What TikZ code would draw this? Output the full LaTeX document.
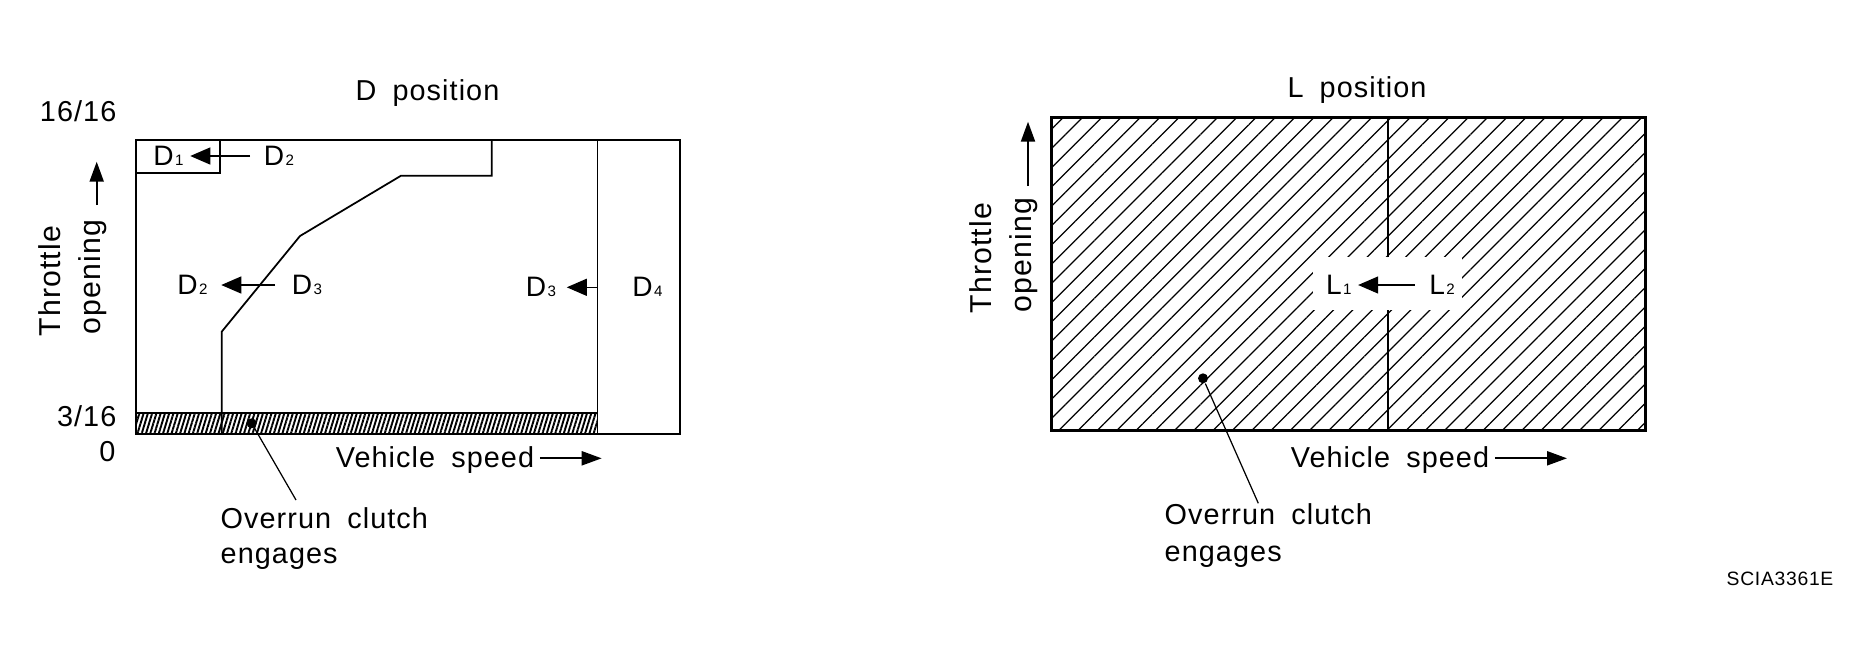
\documentclass[tikz,border=0pt]{standalone}
\usepackage{fontspec}
\setmainfont{Liberation Sans}[LetterSpace=3.7]
\usetikzlibrary{arrows.meta,patterns.meta}

\newcommand{\subnum}[1]{\hspace{0.4pt}{\fontsize{4.3}{5}\selectfont #1}}
\newcommand{\widegap}{\spaceskip 4.6pt\relax}

\begin{document}
\begin{tikzpicture}

\tikzstyle{txt}=[inner sep=0pt, font={\fontsize{8.2}{10}\selectfont\widegap}]
\tikzstyle{axis}=[inner sep=0pt, rotate=90, anchor=base, font=\fontsize{8.6}{10}\selectfont]
\tikzstyle{tag}=[inner sep=0pt, font=\fontsize{8}{9.6}\selectfont]
\tikzstyle{code}=[inner sep=0pt, font=\fontsize{5.5}{6.6}\selectfont]
\tikzstyle{frame}=[line width=0.57pt]
\tikzstyle{boldframe}=[line width=0.85pt]
\tikzstyle{divider}=[line width=0.3pt]
\tikzstyle{curve}=[line width=0.5pt, line join=miter]
\tikzstyle{shiftarrow}=[-{Triangle[length=2mm, width=1.7mm]}, line width=0.35pt]
\tikzstyle{axisarrow}=[-{Triangle[length=2mm, width=1.4mm]}, line width=0.6pt]
\tikzstyle{clutchdot}=[circle, fill, inner sep=0pt, minimum size=1mm]
\tikzstyle{leader}=[line width=0.35pt]

\useasboundingbox (0,0) rectangle (18.66,6.60);

% D position
\fill[pattern={Lines[angle=73, distance=1.16pt, line width=0.55pt]}] (1.357,2.26) rectangle (5.973,2.467);
\draw[frame] (1.357,2.467) -- (5.973,2.467);
\draw[frame] (1.357,2.26) rectangle (6.80,5.20);
\draw[frame] (1.357,4.867) -- (2.20,4.867) -- (2.20,5.20);
\draw[divider] (5.973,2.26) -- (5.973,5.20);
\draw[curve] (4.917,5.20) -- (4.917,4.843) -- (4.01,4.843) -- (3.00,4.24) -- (2.217,3.283) -- (2.217,2.26);

\node[txt, anchor=base] (dtitle) at (4.275,5.60) {D position};
\node[txt, anchor=base east] (full) at (1.17,5.383) {16/16};
\node[txt, anchor=base east] (low) at (1.17,2.34) {3/16};
\node[txt, anchor=base east] (zero) at (1.16,1.983) {0};

\node[axis] (throttle1) at (0.60,3.79) {Throttle};
\node[axis] (opening1) at (1.00,3.83) {opening};
\coordinate (up1) at (0.967,4.983);
\draw[axisarrow] (0.967,4.55) -- (up1);

\node[tag] (d1) at (1.685,5.04) {D\subnum{1}};
\node[tag] (d2a) at (2.79,5.04) {D\subnum{2}};
\node[tag] (d2b) at (1.925,3.75) {D\subnum{2}};
\node[tag] (d3a) at (3.07,3.75) {D\subnum{3}};
\node[tag] (d3b) at (5.41,3.727) {D\subnum{3}};
\node[tag] (d4) at (6.475,3.727) {D\subnum{4}};
\coordinate (d4line) at (5.973,3.727);

\draw[shiftarrow, shorten <=1.3mm, shorten >=0.6mm] (d2a) -- (d1);
\draw[shiftarrow, shorten <=1.6mm, shorten >=1.3mm] (d3a) -- (d2b);
\draw[shiftarrow, shorten >=1.0mm] (d4line) -- (d3b);

\node[txt, anchor=base] (speed1) at (4.35,1.93) {Vehicle speed};
\coordinate (right1) at (6.017,2.017);
\draw[axisarrow] (speed1.east |- right1) ++(0.05,0) -- (right1);

\node[clutchdot] (dot1) at (2.517,2.367) {};
\node[txt, anchor=base west] (clutch1) at (2.20,1.317) {Overrun clutch};
\node[txt, anchor=base west] (engage1) at (2.20,0.967) {engages};
\coordinate (end1) at (2.96,1.60);
\draw[leader] (dot1) -- (end1);

% L position
\fill[pattern={Lines[angle=45, distance=3.88pt, line width=0.35pt]}] (10.51,2.30) rectangle (16.457,5.427);
\fill[white] (13.13,3.50) rectangle (14.62,4.027);
\draw[boldframe] (10.51,2.30) rectangle (16.457,5.427);
\draw[frame] (13.883,2.30) -- (13.883,3.50);
\draw[frame] (13.883,4.027) -- (13.883,5.427);

\node[txt, anchor=base] (ltitle) at (13.57,5.627) {L position};

\node[axis] (throttle2) at (9.917,4.02) {Throttle};
\node[axis] (opening2) at (10.317,4.05) {opening};
\coordinate (up2) at (10.28,5.383);
\draw[axisarrow] (10.28,4.74) -- (up2);

\node[tag] (l1) at (13.387,3.75) {L\subnum{1}};
\node[tag] (l2) at (14.42,3.75) {L\subnum{2}};
\draw[shiftarrow, shorten <=1.4mm, shorten >=0.6mm] (l2) -- (l1);

\node[txt, anchor=base] (speed2) at (13.90,1.93) {Vehicle speed};
\coordinate (right2) at (15.67,2.017);
\draw[axisarrow] (speed2.east |- right2) ++(0.05,0) -- (right2);

\node[clutchdot] (dot2) at (12.03,2.817) {};
\node[txt, anchor=base west] (clutch2) at (11.64,1.36) {Overrun clutch};
\node[txt, anchor=base west] (engage2) at (11.64,0.983) {engages};
\coordinate (end2) at (12.583,1.567);
\draw[leader] (dot2) -- (end2);

\node[code, anchor=base] (figcode) at (17.80,0.75) {SCIA3361E};

\end{tikzpicture}
\end{document}
